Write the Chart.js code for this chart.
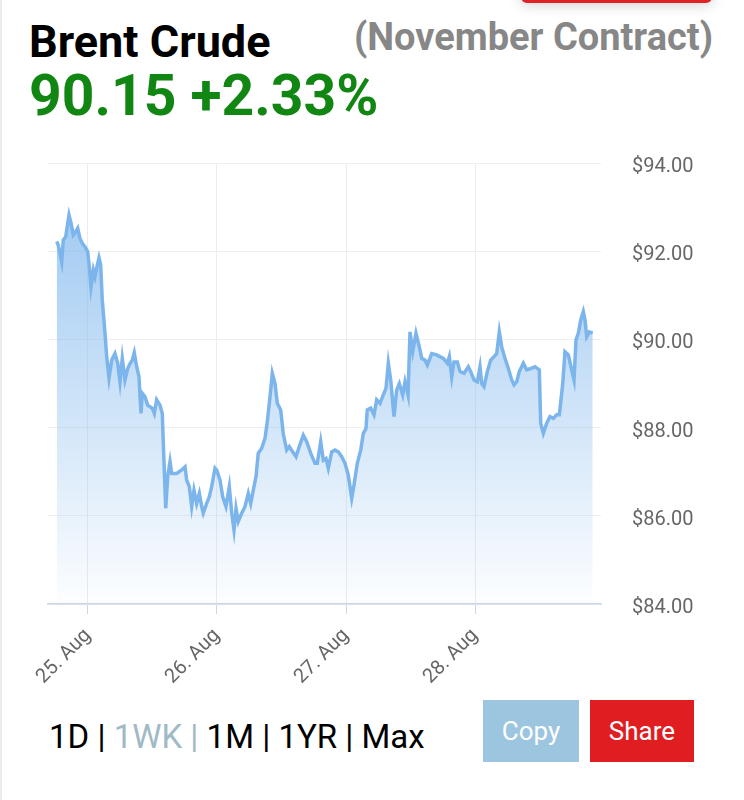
<!DOCTYPE html>
<html>
<head>
<meta charset="utf-8">
<script src="https://cdn.jsdelivr.net/npm/chart.js@4.4.0/dist/chart.umd.min.js"></script>
<style>
  body { margin: 0; background: #fff; font-family: Roboto, sans-serif; }
  #page { position: relative; width: 744px; height: 800px; overflow: hidden; background: #fff; }
  .edge { position: absolute; left: 0; top: 0; width: 2px; height: 800px; background: #ececec; }
  .topbar { position: absolute; left: 521px; top: -30px; width: 191px; height: 33px; background: #e02127; border-radius: 6px; box-shadow: 0 2px 14px rgba(0,0,0,0.18); }
  .title { position: absolute; left: 29px; top: 19px; font-size: 45px; line-height: 45px; font-weight: 700; color: #000; }
  .contract { position: absolute; right: 31px; top: 18px; font-size: 38px; line-height: 38px; font-weight: 700; color: #878787; }
  .quote { position: absolute; left: 29px; top: 67px; font-size: 57px; line-height: 57px; font-weight: 700; color: #128612; }
  #wrap { position: absolute; left: 0; top: 120px; width: 744px; height: 580px; }
  .ranges { position: absolute; left: 49px; top: 720px; font-size: 33px; line-height: 33px; color: #000; white-space: pre; }
  .ranges .on { color: #9fbac6; }
  .btn { position: absolute; top: 700px; height: 62px; line-height: 62px; text-align: center; font-size: 26px; color: #fff; }
  .copy { left: 483px; width: 96px; background: #9cc6df; }
  .share { left: 590px; width: 104px; background: #e01e22; }
</style>
</head>
<body>
<div id="page">
  <div class="edge"></div>
  <div class="topbar"></div>
  <div class="title">Brent Crude</div>
  <div class="contract">(November Contract)</div>
  <div class="quote">90.15 +2.33%</div>
  <div id="wrap"><canvas id="myChart"></canvas></div>
  <div class="ranges">1D | <span class="on">1WK |</span> 1M | 1YR | Max</div>
  <div class="btn copy">Copy</div>
  <div class="btn share">Share</div>
</div>
<script>
// hours counted from 25 Aug 00:00
const hours = [
  -5.82, -5.53, -4.89, -4.60, -4.15, -3.53, -3.16, -2.73, -2.29, -1.92,
  -1.49, -1.06, -0.56, -0.06, 0.24, 0.56, 0.99, 1.30, 1.62, 2.05,
  2.36, 2.66, 3.16, 3.48, 3.91, 4.41, 5.02, 5.53, 5.95, 6.38,
  6.88, 7.39, 7.87, 8.24, 8.61, 9.06, 9.49, 9.86, 10.10, 10.60,
  11.11, 11.54, 11.96, 12.34, 12.78, 13.40, 13.82, 14.08, 14.46, 14.83,
  15.26, 15.57, 16.50, 17.43, 18.05, 18.36, 18.85, 19.29, 19.72, 20.22,
  20.71, 21.15, 21.45, 22.08, 22.57, 23.01, 23.63, 23.94, 24.56, 25.06,
  25.67, 26.29, 26.74, 27.16, 27.54, 27.96, 28.60, 29.21, 29.82, 30.27,
  30.75, 31.26, 31.68, 32.32, 32.93, 33.36, 33.86, 34.29, 34.79, 35.22,
  35.85, 36.34, 36.97, 37.45, 38.08, 38.70, 39.31, 40.06, 40.69, 41.43,
  42.23, 42.66, 43.29, 43.78, 44.28, 44.71, 45.34, 45.95, 46.57, 47.20,
  47.81, 48.43, 49.06, 49.49, 50.10, 50.74, 51.22, 51.72, 51.96, 52.60,
  53.21, 53.71, 54.33, 54.94, 55.44, 55.87, 56.32, 56.93, 57.43, 57.92,
  58.55, 58.98, 59.54, 59.91, 60.41, 61.02, 61.64, 62.09, 62.70, 63.13,
  63.95, 64.88, 66.10, 66.85, 67.22, 67.67, 68.09, 68.71, 69.21, 69.96,
  70.75, 71.20, 71.81, 72.43, 72.93, 73.25, 73.68, 74.29, 74.92, 75.54,
  76.04, 76.52, 76.97, 77.58, 78.20, 78.83, 79.26, 79.76, 80.24, 80.99,
  81.62, 82.36, 83.16, 83.96, 84.22, 84.71, 85.34, 85.95, 86.57, 87.20,
  87.69, 88.32, 88.74, 89.36, 89.99, 90.42, 90.79, 91.22, 91.67, 92.15,
  92.47, 92.78, 93.27, 93.90
];
const prices = [
  92.22, 92.14, 91.76, 92.25, 92.33, 92.82, 92.64, 92.37, 92.44, 92.52,
  92.29, 92.18, 92.10, 91.99, 91.65, 91.19, 91.57, 91.42, 91.62, 91.85,
  91.69, 90.89, 90.14, 89.61, 89.12, 89.53, 89.68, 89.46, 89.04, 89.57,
  89.08, 89.34, 89.46, 89.53, 89.70, 89.38, 89.15, 88.32, 88.78, 88.70,
  88.51, 88.47, 88.44, 88.32, 88.63, 88.51, 88.32, 87.42, 86.17, 86.89,
  87.23, 86.96, 86.96, 87.04, 87.11, 86.81, 86.66, 86.21, 86.58, 86.28,
  86.51, 86.21, 86.06, 86.28, 86.43, 86.66, 87.08, 87.04, 86.81, 86.43,
  86.21, 86.66, 86.06, 85.68, 86.17, 85.87, 86.06, 86.21, 86.51, 86.28,
  86.58, 86.89, 87.42, 87.53, 87.76, 88.13, 88.70, 89.23, 89.00, 88.55,
  88.40, 87.85, 87.49, 87.57, 87.45, 87.34, 87.57, 87.83, 87.68, 87.42,
  87.19, 87.19, 87.68, 87.26, 87.30, 87.08, 87.45, 87.49, 87.45, 87.34,
  87.19, 86.92, 86.40, 86.70, 87.19, 87.49, 87.87, 87.98, 88.40, 88.44,
  88.29, 88.63, 88.55, 88.74, 88.89, 89.46, 89.08, 88.25, 88.85, 89.00,
  88.74, 89.04, 88.74, 90.17, 89.72, 90.14, 89.83, 89.57, 89.53, 89.42,
  89.68, 89.65, 89.57, 89.46, 89.61, 89.15, 89.49, 89.49, 89.27, 89.23,
  89.38, 89.27, 89.08, 89.04, 89.38, 89.00, 88.93, 89.27, 89.53, 89.61,
  89.68, 90.17, 89.83, 89.57, 89.34, 89.08, 88.97, 89.04, 89.27, 89.46,
  89.31, 89.34, 89.38, 89.31, 88.10, 87.87, 88.10, 88.25, 88.21, 88.29,
  88.29, 89.00, 89.72, 89.65, 89.31, 89.08, 89.99, 90.14, 90.44, 90.63,
  90.44, 90.06, 90.17, 90.14
];
const dayTicks = [0, 24, 48, 72];
const dayLabels = ['25. Aug', '26. Aug', '27. Aug', '28. Aug'];
const priceTicks = [84, 86, 88, 90, 92, 94];

Chart.defaults.font.family = 'Roboto';
Chart.defaults.color = '#666';

const ctx = document.querySelector('#myChart');
new Chart(ctx, {
  type: 'line',
  data: {
    datasets: [{
      data: hours.map((h, i) => ({ x: h, y: prices[i] })),
      borderColor: '#7cb5ec',
      borderWidth: 3.5,
      pointRadius: 0,
      tension: 0,
      fill: 'start',
      backgroundColor: (c) => {
        const area = c.chart.chartArea;
        if (!area) return 'rgba(124,181,236,0.4)';
        const g = c.chart.ctx.createLinearGradient(0, area.top, 0, area.bottom);
        g.addColorStop(0, 'rgba(124,181,236,0.8)');
        g.addColorStop(1, 'rgba(124,181,236,0.02)');
        return g;
      }
    }]
  },
  options: {
    responsive: true,
    maintainAspectRatio: false,
    animation: false,
    layout: { padding: { top: 5, left: 48, right: 0, bottom: 0 } },
    plugins: { legend: { display: false }, tooltip: { enabled: false } },
    scales: {
      x: {
        type: 'linear',
        min: -7.44,
        max: 95.44,
        afterBuildTicks: (s) => { s.ticks = dayTicks.map(v => ({ value: v })); },
        afterFit: (s) => { s.height = 96; },
        grid: { color: '#ececec', tickColor: '#ccd6eb', tickLength: 10, lineWidth: 1 },
        border: { color: '#ccd6eb', width: 1.5 },
        ticks: {
          minRotation: 45, maxRotation: 45, padding: 10,
          font: { size: 20 },
          callback: (v) => dayLabels[dayTicks.indexOf(v)]
        }
      },
      y: {
        position: 'right',
        min: 84,
        max: 94,
        afterBuildTicks: (s) => { s.ticks = priceTicks.map(v => ({ value: v })); },
        afterFit: (s) => { s.width = 143; },
        grid: { color: '#efefef', drawTicks: false },
        border: { display: false },
        ticks: {
          padding: 31,
          labelOffset: 4,
          font: { size: 20 },
          callback: (v) => '$' + v.toFixed(2)
        }
      }
    }
  }
});
</script>
</body>
</html>
